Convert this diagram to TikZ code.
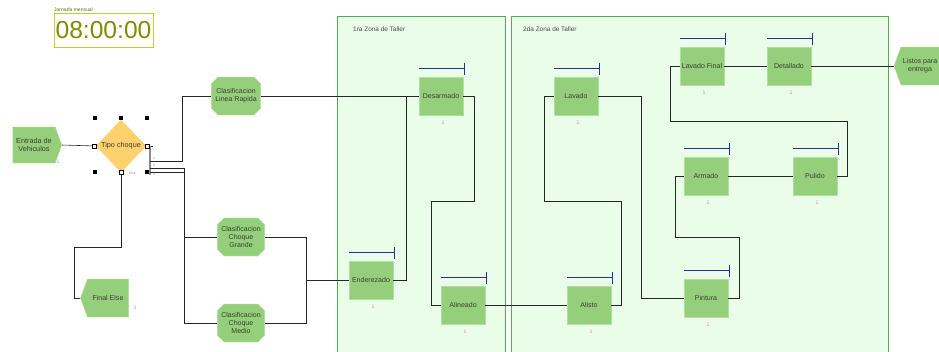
\documentclass[tikz,border=0pt]{standalone}
\usepackage{fontspec}
\setmainfont{Liberation Sans}
\usepackage{tikz}
\usetikzlibrary{shapes.geometric, shapes.misc, shapes.symbols, arrows.meta, positioning, calc}
\definecolor{actgreen}{RGB}{150,207,124}
\definecolor{actedge}{RGB}{178,224,160}
\definecolor{zonefill}{RGB}{233,253,233}
\definecolor{zoneedge}{RGB}{76,175,80}
\definecolor{gateorange}{RGB}{253,210,110}
\definecolor{barblue}{RGB}{40,50,150}
\definecolor{cntred}{RGB}{225,140,140}
\definecolor{clkolive}{RGB}{125,140,0}
\definecolor{clkedge}{RGB}{185,212,50}
\definecolor{txtdark}{RGB}{55,65,45}
\definecolor{markpurple}{RGB}{160,140,220}
\tikzset{
  actbox/.style={rectangle, draw=actedge, fill=actgreen,
    minimum width=13.2mm, minimum height=11.4mm, inner sep=0.5pt,
    font=\fontsize{6}{7}\selectfont, text=txtdark, line width=0.4pt},
  clsbox/.style={chamfered rectangle, chamfered rectangle xsep=1mm,
    chamfered rectangle ysep=1mm, draw=actedge, fill=actgreen,
    minimum width=13.5mm, minimum height=11.4mm, inner sep=0.5pt, align=center,
    font=\fontsize{6}{7}\selectfont, text=txtdark, line width=0.4pt},
  srcbox/.style={signal, signal to=east, signal pointer angle=140,
    draw=actedge, fill=actgreen, minimum width=14.7mm, minimum height=10.8mm,
    inner sep=0.5pt, align=center, font=\fontsize{6.2}{7.5}\selectfont, text=txtdark},
  sinkbox/.style={signal, signal to=west, signal pointer angle=140,
    draw=actedge, fill=actgreen, minimum width=14.4mm, minimum height=11.4mm,
    inner sep=0.5pt, align=center, font=\fontsize{6}{7}\selectfont, text=txtdark},
  gatebox/.style={diamond, draw=gateorange, fill=gateorange,
    minimum width=15mm, minimum height=15.6mm, inner sep=0pt,
    font=\fontsize{6.2}{7}\selectfont, text=txtdark},
  zone/.style={draw=zoneedge, fill=zonefill, line width=0.6pt},
  zonelbl/.style={anchor=west, inner sep=0pt, text=black!70,
    font=\fontsize{5.5}{6}\selectfont},
  conn/.style={draw=black!85, line width=0.5pt},
  gatebar/.style={draw=black!45, line width=1.2pt},
  resbar/.style={draw=barblue, line width=0.7pt, -{Bar[width=3.6mm, line width=0.7pt]}},
  cntmark/.style={text=cntred, inner sep=0pt, font=\fontsize{4.5}{4.5}\selectfont},
  entmark/.style={text=markpurple, inner sep=0pt, font=\fontsize{4.5}{4.5}\selectfont},
  tinylbl/.style={text=black!50, inner sep=0pt, anchor=west, font=\fontsize{2.8}{3}\selectfont},
  handle/.style={rectangle, fill=black, minimum size=1.3mm, inner sep=0pt},
  porthandle/.style={rectangle, draw=black, fill=white, line width=0.6pt,
    minimum size=1.2mm, inner sep=0pt}
}

\begin{document}
\begin{tikzpicture}[x=0.3mm, y=-0.3mm]
  \useasboundingbox (0,0) rectangle (939,351);

  % Zonas de taller
  \draw[zone] (337,16) rectangle (505,358);
  \draw[zone] (511,16) rectangle (888,358);
  \node[zonelbl] (z1lbl) at (353,29) {1ra Zona de Taller};
  \node[zonelbl] (z2lbl) at (523,29) {2da Zona de Taller};

  % Reloj
  \node[draw=clkedge, line width=0.7pt, minimum width=29.7mm, minimum height=10.2mm,
    inner sep=0pt, text=clkolive, font=\fontsize{21}{21}\selectfont] (clk) at (103.5,30) {08:00:00};
  \node[anchor=south west, inner sep=0.3pt, text=clkolive!80!black, font=\fontsize{4.3}{4.5}\selectfont]
    (clklbl) at (clk.north west) {Jornada mensual};

  % Entrada y decision
  \node[srcbox] (ent) at (34,145) {Entrada de\\Vehiculos};
  \node[entmark] (entm) at (58,162) {1};
  \node[gatebox] (tipo) at (121,146) {Tipo choque};
  \node[sinkbox] (fels) at (108,298) {Final Else};
  \node[entmark] (felsm) at (135,308) {1};

  % Clasificacion
  \node[clsbox] (clr) at (236,96) {Clasificacion\\Linea Rapida};
  \node[clsbox] (cgr) at (241,237) {Clasificacion\\Choque\\Grande};
  \node[clsbox] (cmd) at (241,323) {Clasificacion\\Choque\\Medio};

  % 1ra zona
  \node[actbox] (desa) at (441,96) {Desarmado};
  \node[actbox] (ende) at (371,280) {Enderezado};
  \node[actbox] (alin) at (463,305) {Alineado};

  % 2da zona
  \node[actbox] (lav) at (576,96) {Lavado};
  \node[actbox] (alis) at (589,305) {Alisto};
  \node[actbox] (lavf) at (702,66) {Lavado Final};
  \node[actbox] (deta) at (789,66) {Detallado};
  \node[actbox] (arm) at (706,176) {Armado};
  \node[actbox] (pul) at (815,176) {Pulido};
  \node[actbox] (pint) at (706,298) {Pintura};
  \node[sinkbox, minimum width=13.5mm] (lst) at (920,66) {Listos para\\entrega};

  % recursos
  \foreach \n in {desa,ende,alin,lav,alis,lavf,deta,arm,pul,pint} {
    \draw[resbar] ([yshift=2.4mm]\n.north west) -- ([yshift=2.4mm, xshift=0.4mm]\n.north east);
    \node[cntmark] (\n-cnt) at ([xshift=0.6mm, yshift=-2.2mm]\n.south) {1};
  }

  % conectores
  \draw[conn] (ent.east) -- (tipo.west);
  \draw[conn] (tipo.east) -- ++(7,0);
  \draw[gatebar] (150,146) -- (150,175);
  \coordinate (o1) at (150,161);
  \coordinate (o2) at (150,168);
  \coordinate (o3) at (150,172);
  \draw[conn] (o1) -- (182,161) |- (clr.west);
  \draw[conn] (o2) -- (184,168) |- (cgr.west);
  \draw[conn] (o3) -- (184,172) |- (cmd.west);
  \node[tinylbl] (o1lbl) at (153,158) {1};
  \node[tinylbl] (o2lbl) at (153,165) {2};
  \node[tinylbl] (o3lbl) at (153,174) {3};
  \draw[conn] (tipo.south) |- (74,247) |- (fels.west);
  \node[tinylbl] (elselbl) at (129,173) {Else};

  \coordinate (mrg) at (306,280);
  \draw[conn] (cgr.east) -| (mrg);
  \draw[conn] (cmd.east) -| (mrg);
  \draw[conn] (mrg) -- (ende.west);
  \draw[conn] (clr.east) -- (desa.west);
  \draw[conn] (ende.east) -| (406,96);
  \draw[conn] (desa.east) -- (474,96) |- (431,201) |- (alin.west);
  \draw[conn] (alin.east) -- (alis.west);
  \draw[conn] (alis.east) -- (621,305) |- (544,201) |- (lav.west);
  \draw[conn] (lav.east) -- (641,96) |- (pint.west);
  \draw[conn] (pint.east) -- (739,298) |- (675,237) |- (arm.west);
  \draw[conn] (arm.east) -- (pul.west);
  \draw[conn] (pul.east) -- (847,176) |- (670,121) |- (lavf.west);
  \draw[conn] (lavf.east) -- (deta.west);
  \draw[conn] (deta.east) -- (lst.west);

  % seleccion del rombo
  \foreach \dx/\dy [count=\i] in {-26/-28, 0/-28, 26/-28, -26/26, 26/26}
    \node[handle] (hnd\i) at ($(tipo)+(\dx,\dy)$) {};
  \node[porthandle] (ph1) at ([xshift=-0.4mm]tipo.west) {};
  \node[porthandle] (ph2) at ([xshift=0.4mm]tipo.east) {};
  \node[porthandle] (ph3) at (tipo.south) {};
\end{tikzpicture}
\end{document}
